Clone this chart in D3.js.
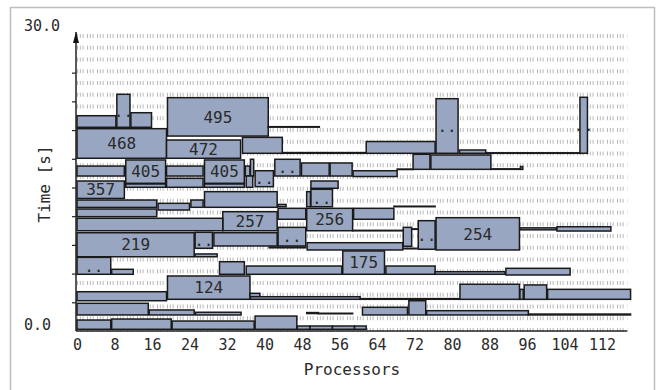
<!DOCTYPE html>
<html>
<head>
<meta charset="utf-8">
<script src="https://cdn.jsdelivr.net/npm/d3@7"></script>
<style>
  body { margin: 0; background: #fff; }
  svg { display: block; }
</style>
</head>
<body>
<div id="chart"></div>
<script>
// one entry per job: [first processor, last processor, start [s], end [s], label]
const jobs = [
  [19.3, 40.8, 19.56, 23.41, '495'],
  [40.8, 51.7, 20.45, 20.5, ''],
  [0, 19.1, 17.33, 20.3, '468'],
  [0, 8.3, 20.44, 21.6, ''],
  [8.5, 11.3, 20.44, 23.75, '..'],
  [11.5, 15.9, 20.44, 21.9, ''],
  [19.1, 34.9, 17.33, 19.16, '472'],
  [35.3, 43.8, 17.83, 19.43, ''],
  [43.8, 61.7, 17.83, 17.9, ''],
  [61.7, 76.4, 17.83, 19.01, ''],
  [76.6, 81.3, 17.83, 23.31, '..'],
  [81.6, 87.2, 17.83, 18.16, ''],
  [87.2, 107.3, 17.83, 17.88, ''],
  [107.3, 108.9, 17.83, 23.45, '..'],

  [0, 10.1, 15.55, 16.55, ''],
  [10.4, 18.9, 14.82, 17.16, '405'],
  [10.4, 18.9, 14.42, 14.75, ''],
  [19.1, 26.9, 15.55, 16.55, ''],
  [19.1, 26.9, 14.42, 15.32, ''],
  [27.2, 35.7, 14.82, 17.16, '405'],
  [27.2, 35.7, 14.42, 14.75, ''],
  [35.9, 36.9, 15.55, 16.55, ''],
  [37.0, 37.7, 15.55, 17.23, ''],
  [38.0, 41.9, 14.48, 16.08, '..'],
  [36.1, 37.5, 14.42, 15.55, ''],
  [42.2, 47.6, 15.55, 17.23, '..'],
  [47.9, 53.8, 15.55, 16.86, ''],
  [54.0, 58.7, 15.55, 16.86, ''],
  [58.9, 68.3, 15.5, 16.08, ''],
  [68.3, 71.7, 16.2, 16.25, ''],
  [71.7, 75.3, 16.22, 17.73, ''],
  [75.5, 88.3, 16.22, 17.66, ''],
  [88.3, 95.0, 16.22, 16.27, ''],
  [94.6, 95.1, 16.22, 16.5, ''],
  [49.9, 55.7, 14.32, 15.05, ''],

  [0, 10.1, 13.3, 15.05, '357'],
  [27.2, 42.7, 12.41, 13.98, ''],
  [42.9, 44.6, 12.47, 12.7, ''],
  [49.9, 54.5, 12.47, 14.22, '..'],
  [49.0, 49.8, 12.47, 13.98, ''],
  [0, 17.0, 12.4, 13.14, ''],
  [0, 17.0, 11.47, 12.24, ''],
  [17.3, 24.0, 12.14, 12.81, ''],
  [24.3, 26.9, 12.41, 13.14, ''],
  [67.6, 76.4, 12.47, 12.52, ''],

  [31.1, 42.7, 10.06, 11.97, '257'],
  [0, 31.1, 10.06, 11.31, ''],
  [42.9, 48.8, 11.21, 12.31, ''],
  [49.0, 58.8, 10.06, 12.31, '256'],
  [59.0, 67.6, 11.21, 12.31, ''],
  [58.8, 69.6, 10.06, 10.1, ''],
  [69.6, 71.4, 8.5, 10.4, ''],
  [71.4, 72.8, 10.2, 10.25, ''],
  [72.8, 76.4, 8.2, 11.07, '..'],
  [76.6, 94.4, 8.13, 11.37, '254'],
  [94.5, 102.3, 10.15, 10.35, ''],
  [102.4, 113.9, 10.03, 10.46, ''],

  [0, 25.0, 7.45, 9.86, '219'],
  [25.2, 28.9, 8.3, 9.9, '..'],
  [29.2, 42.7, 8.53, 9.86, ''],
  [25.2, 29.9, 7.45, 7.73, ''],
  [42.9, 48.8, 8.53, 10.4, '..'],
  [41.0, 48.8, 8.35, 8.42, ''],
  [49.1, 69.5, 8.13, 8.86, ''],
  [69.6, 72.5, 8.26, 8.3, ''],

  [0, 7.2, 5.69, 7.39, '..'],
  [7.4, 12.0, 5.69, 6.19, ''],
  [30.4, 35.7, 5.69, 6.95, ''],
  [36.1, 56.5, 5.69, 6.52, ''],
  [56.7, 65.6, 5.69, 8.03, '175'],
  [65.9, 76.4, 5.69, 6.52, ''],
  [76.4, 91.3, 5.69, 5.95, ''],
  [91.5, 105.2, 5.62, 6.29, ''],

  [19.3, 36.9, 3.18, 5.52, '124'],
  [0, 19.1, 3.04, 3.94, ''],
  [36.9, 39.0, 3.44, 3.78, ''],
  [37.0, 60.4, 3.18, 3.44, ''],
  [60.4, 100.2, 3.18, 3.25, ''],
  [81.7, 94.4, 3.18, 4.69, ''],
  [94.5, 95.2, 3.18, 4.18, ''],
  [95.4, 100.2, 3.18, 4.62, ''],
  [100.4, 118.1, 3.18, 4.18, ''],

  [0, 15.2, 1.61, 2.78, ''],
  [15.4, 25.0, 1.61, 2.11, ''],
  [25.3, 35.0, 1.61, 1.88, ''],
  [0, 7.2, 0.17, 1.1, ''],
  [7.4, 20.1, 0.17, 1.2, ''],
  [20.3, 37.8, 0.17, 1.0, ''],
  [38.0, 46.9, 0.17, 1.5, ''],
  [47.0, 49.7, 0.17, 0.5, ''],
  [49.7, 54.5, 0.17, 0.5, ''],
  [54.5, 59.2, 0.17, 0.5, ''],
  [59.2, 61.7, 0.17, 0.5, ''],
  [49.0, 51.5, 1.75, 1.85, ''],
  [51.5, 58.8, 1.75, 1.78, ''],
  [60.9, 70.5, 1.61, 2.38, ''],
  [70.8, 74.4, 1.61, 3.04, ''],
  [74.6, 96.3, 1.61, 2.04, ''],
  [96.3, 118.1, 1.61, 1.7, '']
];

const xTickValues = [0, 8, 16, 24, 32, 40, 48, 56, 64, 72, 80, 88, 96, 104, 112];
const yTickValues = [2.88, 5.76, 8.64, 11.52, 14.4, 17.28, 20.16, 23.04, 25.92];
const yLabelValues = [0, 30];
const gridRowStep = 1.18;
const gridRowCount = 26;

const width = 657;
const height = 390;
const monoFont = 'DejaVu Sans Mono';
const jobFill = '#98a6c1';
const jobStroke = '#1a1a1a';
const textColor = '#2a2a2a';

const x = d3.scaleLinear().domain([0, 118]).range([77, 630.1]);
const y = d3.scaleLinear().domain([0, 30]).range([331, 32]);

const svg = d3.select('#chart').append('svg')
  .attr('width', width)
  .attr('height', height);

// outer frame
svg.append('rect')
  .attr('x', 10.5)
  .attr('y', 7.5)
  .attr('width', 644)
  .attr('height', 400)
  .attr('fill', 'none')
  .attr('stroke', '#bdbdbd')
  .attr('stroke-width', 1.5);

// dotted background rows
const gridRows = d3.range(gridRowCount).map(i => i * gridRowStep);
svg.append('g')
  .selectAll('line')
  .data(gridRows)
  .enter()
  .append('line')
  .attr('x1', x(0))
  .attr('x2', x(117.4))
  .attr('y1', d => y(d) - 1)
  .attr('y2', d => y(d) - 1)
  .attr('stroke', '#b8b8b8')
  .attr('stroke-width', 4)
  .attr('stroke-dasharray', '1,1.8,1,1.8,1,3.4');

// jobs
svg.append('g')
  .selectAll('rect')
  .data(jobs)
  .enter()
  .append('rect')
  .attr('x', d => x(d[0]))
  .attr('y', d => y(d[3]))
  .attr('width', d => x(d[1]) - x(d[0]))
  .attr('height', d => Math.max(0.5, y(d[2]) - y(d[3])))
  .attr('fill', jobFill)
  .attr('stroke', jobStroke)
  .attr('stroke-width', 1.5);

svg.append('g')
  .selectAll('text')
  .data(jobs.filter(d => d[4] !== ''))
  .enter()
  .append('text')
  .attr('x', d => (x(d[0]) + x(d[1])) / 2)
  .attr('y', d => (y(d[2]) + y(d[3])) / 2)
  .attr('dy', '0.36em')
  .attr('text-anchor', 'middle')
  .attr('font-family', monoFont)
  .attr('font-size', '16px')
  .attr('fill', textColor)
  .text(d => d[4]);

// x axis
const xAxis = svg.append('g')
  .attr('transform', `translate(0, ${y(0)})`)
  .call(d3.axisBottom(x)
    .tickValues(xTickValues)
    .tickSize(0)
    .tickSizeOuter(0)
    .tickPadding(8)
    .tickFormat(d => d));
xAxis.select('.domain').attr('stroke', '#222').attr('stroke-width', 1.5)
  .attr('d', `M${x(0) - 1},0H${x(117.4)}`);
xAxis.selectAll('text')
  .attr('font-family', monoFont)
  .attr('font-size', '15px')
  .attr('fill', textColor);

// y axis
const yAxis = svg.append('g')
  .attr('transform', `translate(${x(0) - 1}, 0)`)
  .call(d3.axisLeft(y)
    .tickValues(yTickValues)
    .tickSize(4)
    .tickSizeOuter(0)
    .tickFormat(''));
yAxis.select('.domain').attr('stroke', '#222').attr('stroke-width', 1.5)
  .attr('d', `M0,${y(0)}V${y(30)}`);
yAxis.selectAll('.tick line').attr('stroke', '#222').attr('stroke-width', 1.2);

// arrow head on the time axis
svg.append('path')
  .attr('d', `M${x(0) - 1},${y(30)}L${x(0) - 4},${y(30) + 11}L${x(0) + 2},${y(30) + 11}Z`)
  .attr('fill', '#111');

svg.append('g')
  .selectAll('text')
  .data(yLabelValues)
  .enter()
  .append('text')
  .attr('x', 24)
  .attr('y', d => y(d) - 1)
  .attr('font-family', monoFont)
  .attr('font-size', '15px')
  .attr('fill', textColor)
  .text(d => d.toFixed(1));

// axis titles
svg.append('text')
  .attr('x', 352)
  .attr('y', 375)
  .attr('text-anchor', 'middle')
  .attr('font-family', monoFont)
  .attr('font-size', '16px')
  .attr('fill', textColor)
  .text('Processors');

svg.append('text')
  .attr('transform', 'translate(50, 184) rotate(-90)')
  .attr('text-anchor', 'middle')
  .attr('font-family', monoFont)
  .attr('font-size', '16px')
  .attr('fill', textColor)
  .text('Time [s]');
</script>
</body>
</html>
